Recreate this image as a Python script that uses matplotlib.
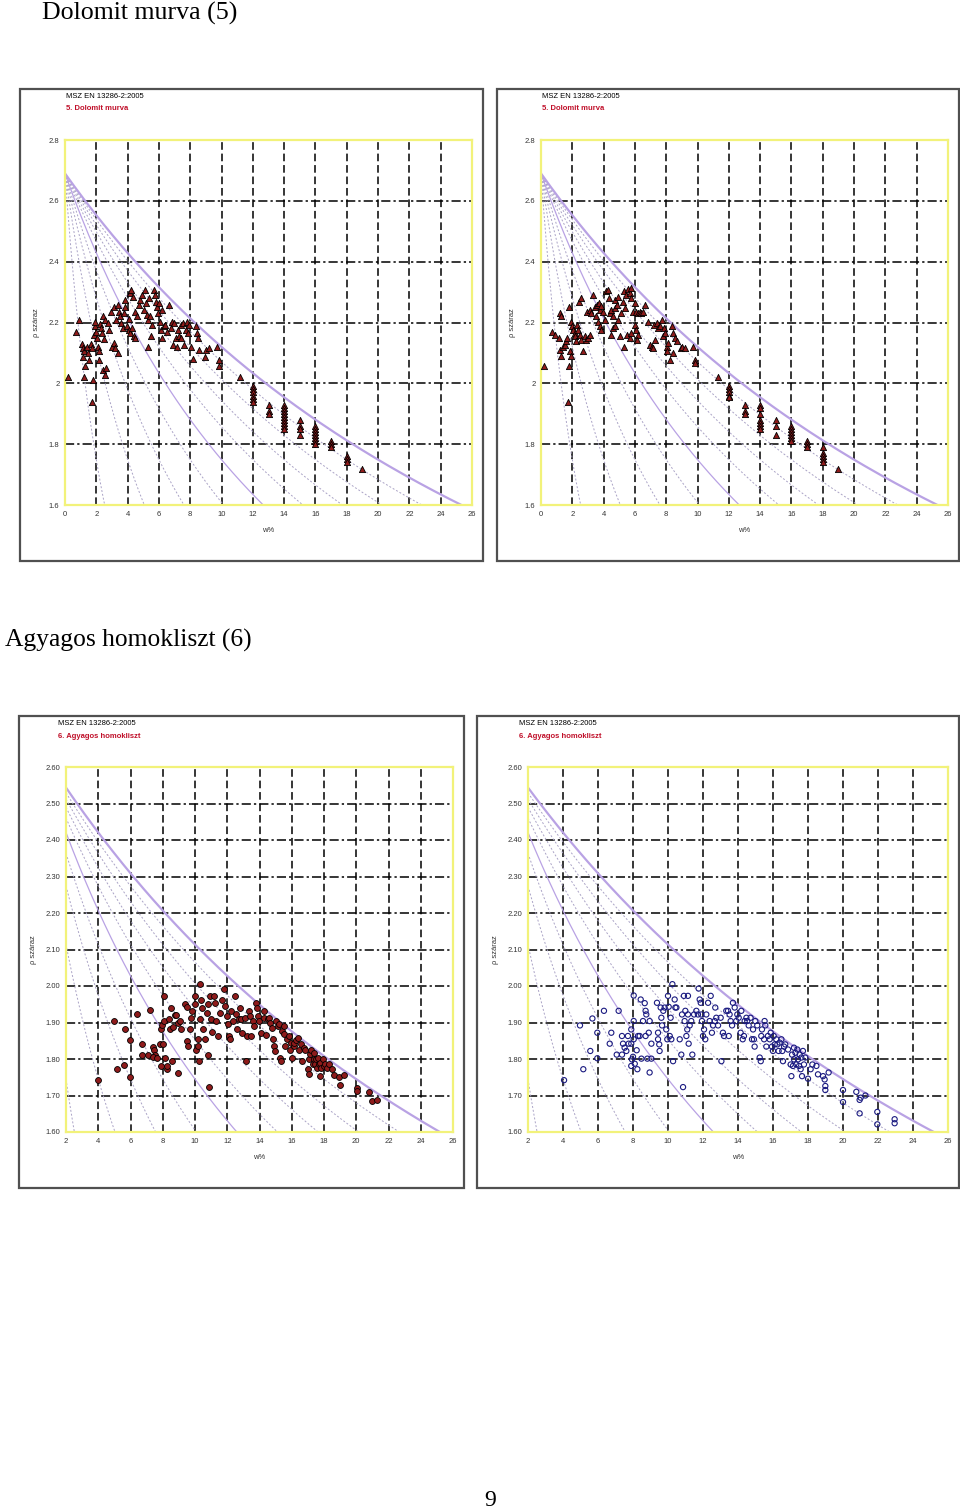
import numpy as np
import matplotlib
matplotlib.use("Agg")
import matplotlib.pyplot as plt
from matplotlib.patches import Rectangle

# --- data ------------------------------------------------------------------

# 5. Dolomit murva, left chart (w %, rho dry)
tl_w = [0.17, 0.70, 0.92, 1.09, 1.15, 1.22, 1.17, 1.28, 1.41, 1.47, 1.51, 1.19, 1.68, 1.73, 1.77,
        1.73, 1.83, 1.90, 1.94, 2.00, 2.05, 2.11, 2.15, 2.20, 2.26, 2.32, 2.37, 2.47, 2.41, 2.54,
        2.64, 2.43, 2.58, 2.75, 2.79, 2.96, 3.01, 3.11, 3.22, 3.37, 3.11, 3.26, 3.39, 3.48, 3.54,
        3.60, 3.69, 3.75, 3.82, 3.86, 3.97, 4.07, 4.18, 4.29, 4.39, 4.46, 4.07, 4.18, 4.24, 4.33,
        4.50, 4.61, 4.71, 4.82, 4.92, 5.03, 5.10, 5.18, 5.25, 5.31, 5.39, 5.46, 5.52, 5.56, 5.29,
        5.67, 5.74, 5.82, 5.88, 5.95, 6.03, 6.10, 6.16, 6.20, 6.20, 6.31, 6.42, 6.52, 6.67, 6.74,
        6.84, 6.89, 6.95, 7.06, 7.16, 7.23, 7.27, 7.38, 7.44, 7.53, 7.59, 7.74, 7.80, 7.87, 7.95,
        8.02, 8.19, 8.34, 8.44, 8.49, 8.55, 8.93, 9.02, 9.19, 9.68, 9.83, 9.83, 11.2,
        12, 12, 12, 12, 12, 12, 13, 13, 13, 14, 14, 14, 14, 14, 14, 14, 14, 14,
        15, 15, 15, 15, 16, 16, 16, 16, 16, 16, 16, 17, 17, 17, 18, 18, 18, 19]
tl_rho = [2.020, 2.170, 2.207, 2.130, 2.115, 2.105, 2.086, 2.058, 2.121, 2.100, 2.078, 2.020, 2.130,
          2.116, 2.012, 1.939, 2.160, 2.187, 2.203, 2.170, 2.149, 2.121, 2.105, 2.078, 2.196, 2.181,
          2.165, 2.145, 2.045, 2.028, 2.050, 2.223, 2.209, 2.198, 2.176, 2.236, 2.121, 2.132, 2.116,
          2.100, 2.252, 2.209, 2.258, 2.236, 2.220, 2.198, 2.181, 2.231, 2.252, 2.274, 2.187, 2.176,
          2.165, 2.181, 2.154, 2.149, 2.211, 2.296, 2.307, 2.285, 2.236, 2.220, 2.258, 2.274, 2.291,
          2.242, 2.307, 2.263, 2.225, 2.209, 2.280, 2.220, 2.154, 2.192, 2.121, 2.307, 2.291, 2.269,
          2.252, 2.231, 2.263, 2.203, 2.176, 2.242, 2.149, 2.187, 2.192, 2.170, 2.258, 2.181, 2.203,
          2.127, 2.198, 2.149, 2.121, 2.176, 2.154, 2.192, 2.149, 2.198, 2.127, 2.176, 2.203, 2.165,
          2.192, 2.121, 2.080, 2.187, 2.165, 2.149, 2.110, 2.086, 2.110, 2.116, 2.121, 2.078, 2.058,
          2.020,
          1.99, 1.98, 1.97, 1.96, 1.95, 1.94, 1.93, 1.91, 1.90, 1.93, 1.92, 1.91, 1.90, 1.89, 1.88,
          1.87, 1.86, 1.85, 1.88, 1.86, 1.85, 1.83, 1.86, 1.85, 1.84, 1.83, 1.82, 1.81, 1.80, 1.81,
          1.80, 1.79, 1.76, 1.75, 1.74, 1.72]

# 5. Dolomit murva, right chart
tr_w = [0.19, 0.70, 0.92, 1.13, 1.22, 1.30, 1.19, 1.26, 1.41, 1.51, 1.62, 1.68, 1.83, 1.90, 1.77,
        1.79, 1.73, 1.94, 2.00, 2.07, 2.15, 2.20, 2.26, 2.32, 2.37, 2.47, 2.54, 2.41, 2.58, 2.69,
        2.79, 2.90, 3.01, 3.11, 2.96, 3.11, 3.22, 3.33, 3.48, 3.60, 3.69, 3.75, 3.86, 3.97, 3.54,
        3.65, 3.75, 3.86, 4.07, 4.18, 4.29, 4.33, 4.39, 4.50, 4.61, 4.71, 4.75, 4.88, 4.92, 4.46,
        4.61, 4.75, 4.92, 5.03, 5.10, 5.25, 5.31, 5.39, 5.46, 5.56, 5.67, 5.74, 5.78, 5.31, 5.52,
        5.67, 5.78, 5.88, 5.99, 6.10, 6.20, 6.31, 6.42, 6.52, 5.99, 6.10, 6.20, 6.16, 6.63, 6.84,
        6.95, 7.06, 7.16, 7.23, 7.27, 7.38, 7.48, 7.59, 7.70, 7.80, 7.87, 7.95, 8.02, 8.08, 8.12,
        8.23, 8.34, 8.44, 8.55, 8.66, 8.44, 8.93, 9.02, 9.19, 9.72, 9.83, 9.83, 11.28,
        12, 12, 12, 12, 12, 13, 13, 13, 14, 14, 14, 14, 14, 14, 14, 15, 15, 15,
        16, 16, 16, 16, 16, 16, 17, 17, 17, 18, 18, 18, 18, 18, 19]
tr_rho = [2.058, 2.170, 2.160, 2.149, 2.231, 2.220, 2.110, 2.089, 2.121, 2.127, 2.138, 2.149, 2.105,
          2.089, 2.252, 2.058, 1.939, 2.203, 2.187, 2.176, 2.165, 2.154, 2.138, 2.192, 2.176, 2.160,
          2.143, 2.269, 2.280, 2.105, 2.154, 2.143, 2.149, 2.160, 2.236, 2.242, 2.231, 2.291, 2.252,
          2.258, 2.263, 2.242, 2.255, 2.236, 2.220, 2.203, 2.187, 2.176, 2.209, 2.302, 2.307, 2.280,
          2.231, 2.242, 2.220, 2.247, 2.274, 2.258, 2.285, 2.160, 2.181, 2.187, 2.209, 2.154, 2.231,
          2.269, 2.302, 2.247, 2.291, 2.309, 2.296, 2.313, 2.280, 2.121, 2.160, 2.149, 2.165, 2.236,
          2.263, 2.236, 2.231, 2.236, 2.231, 2.236, 2.192, 2.176, 2.160, 2.143, 2.258, 2.203, 2.127,
          2.121, 2.116, 2.192, 2.143, 2.198, 2.181, 2.187, 2.209, 2.154, 2.181, 2.165, 2.121, 2.105,
          2.132, 2.078, 2.187, 2.165, 2.149, 2.138, 2.100, 2.116, 2.121, 2.116, 2.121, 2.078, 2.067,
          2.020,
          1.99, 1.98, 1.97, 1.96, 1.955, 1.93, 1.91, 1.90, 1.93, 1.92, 1.90, 1.88, 1.87, 1.86, 1.85,
          1.88, 1.86, 1.83, 1.86, 1.85, 1.84, 1.83, 1.82, 1.81, 1.81, 1.80, 1.79, 1.79, 1.77, 1.76,
          1.75, 1.74, 1.72]

# 6. Agyagos homokliszt, left chart
bl_w = [4.01, 5.00, 5.19, 5.58, 5.68, 5.99, 5.99, 6.39, 6.74, 6.70, 7.07, 7.19, 7.42, 7.48, 7.52,
        7.42, 7.65, 7.81, 8.02, 7.90, 7.98, 8.08, 8.08, 7.90, 8.15, 8.27, 8.29, 8.46, 8.39, 8.52,
        8.60, 8.64, 8.77, 8.85, 8.93, 8.93, 9.06, 9.14, 9.39, 9.49, 9.51, 9.59, 9.72, 9.76, 9.84,
        9.97, 10.01, 10.05, 10.17, 10.21, 10.26, 10.28, 10.32, 10.38, 10.46, 10.52, 10.63, 10.73,
        10.79, 10.83, 10.88, 10.94, 11.00, 11.08, 11.19, 11.25, 11.29, 11.41, 11.56, 11.66, 11.77,
        11.87, 11.97, 12.04, 12.08, 12.18, 12.24, 12.35, 12.45, 12.53, 12.61, 12.70, 12.80, 12.86,
        12.94, 13.07, 13.15, 13.21, 13.32, 13.42, 13.48, 13.57, 13.65, 13.77, 13.84, 13.90, 13.98,
        14.10, 14.25, 14.31, 14.39, 14.52, 14.60, 14.68, 14.77, 14.85, 14.93, 14.97, 15.01, 15.14,
        15.22, 15.30, 15.35, 15.39, 15.49, 15.55, 15.59, 15.70, 15.80, 15.90, 15.97, 16.01, 16.11,
        16.17, 16.26, 16.38, 16.46, 16.59, 16.63, 16.73, 16.84, 17.00, 17.04, 17.08, 17.15, 17.21,
        17.29, 17.35, 17.41, 17.46, 17.52, 17.56, 17.62, 17.66, 17.73, 17.77, 17.83, 17.91, 17.97,
        18.08, 18.18, 18.28, 18.49, 18.59, 18.90, 19.01, 19.21, 20.04, 20.04, 20.77, 20.97, 21.28]
bl_rho = [1.742, 1.904, 1.772, 1.783, 1.881, 1.852, 1.752, 1.922, 1.840, 1.812, 1.812, 1.933, 1.833,
          1.826, 1.812, 1.805, 1.804, 1.840, 1.840, 1.881, 1.892, 1.904, 1.973, 1.781, 1.802, 1.772,
          1.781, 1.881, 1.909, 1.941, 1.794, 1.889, 1.921, 1.920, 1.898, 1.763, 1.904, 1.881, 1.950,
          1.943, 1.849, 1.836, 1.881, 1.913, 1.932, 1.950, 1.973, 1.826, 1.836, 1.854, 1.795, 1.909,
          2.005, 1.963, 1.941, 1.881, 1.854, 1.927, 1.812, 1.950, 1.723, 1.973, 1.909, 1.874, 1.973,
          1.954, 1.904, 1.863, 1.927, 1.963, 1.993, 1.945, 1.918, 1.895, 1.863, 1.854, 1.932, 1.904,
          1.973, 1.922, 1.881, 1.909, 1.941, 1.909, 1.872, 1.913, 1.794, 1.863, 1.932, 1.918, 1.863,
          1.904, 1.890, 1.954, 1.941, 1.918, 1.904, 1.872, 1.932, 1.913, 1.865, 1.909, 1.913, 1.898,
          1.886, 1.854, 1.836, 1.822, 1.904, 1.890, 1.895, 1.804, 1.795, 1.877, 1.868, 1.890, 1.836,
          1.854, 1.863, 1.826, 1.845, 1.804, 1.836, 1.845, 1.852, 1.858, 1.826, 1.840, 1.795, 1.831,
          1.826, 1.772, 1.799, 1.758, 1.813, 1.826, 1.785, 1.799, 1.817, 1.785, 1.799, 1.776, 1.804,
          1.785, 1.753, 1.790, 1.776, 1.799, 1.781, 1.785, 1.776, 1.785, 1.772, 1.756, 1.752, 1.729,
          1.755, 1.721, 1.712, 1.710, 1.684, 1.687]

# 6. Agyagos homokliszt, right chart
br_w = [4.06, 4.97, 5.16, 5.56, 5.68, 5.96, 5.96, 6.34, 6.67, 6.76, 7.07, 7.18, 7.37, 7.37, 7.43,
        7.52, 7.62, 7.71, 7.75, 7.90, 7.90, 7.90, 7.94, 8.00, 8.04, 8.04, 8.04, 8.10, 8.21, 8.25,
        8.29, 8.38, 8.44, 8.48, 8.57, 8.67, 8.72, 8.72, 8.76, 8.82, 8.90, 8.95, 8.95, 9.05, 9.05,
        9.37, 9.43, 9.43, 9.50, 9.52, 9.58, 9.62, 9.66, 9.73, 9.81, 9.90, 9.96, 10.00, 10.04, 10.10,
        10.15, 10.19, 10.25, 10.29, 10.38, 10.42, 10.48, 10.67, 10.76, 10.86, 10.80, 10.91, 10.95,
        10.99, 11.05, 11.10, 11.14, 11.14, 11.18, 11.24, 11.33, 11.39, 11.49, 11.62, 11.71, 11.75,
        11.81, 11.87, 11.90, 11.94, 12.00, 12.06, 12.13, 12.19, 12.29, 12.38, 12.44, 12.51, 12.57,
        12.67, 12.70, 12.76, 12.86, 13.01, 13.05, 13.14, 13.20, 13.33, 13.43, 13.47, 13.52, 13.58,
        13.66, 13.71, 13.81, 13.90, 13.96, 14.04, 14.15, 14.19, 14.27, 14.34, 14.38, 14.48, 14.53,
        14.61, 14.72, 14.80, 14.86, 14.91, 14.95, 14.99, 15.10, 15.24, 15.30, 15.33, 15.37, 15.49,
        15.52, 15.56, 15.62, 15.71, 15.81, 15.87, 15.94, 16.00, 16.04, 16.10, 16.19, 16.25, 16.32,
        16.38, 16.48, 16.53, 16.57, 16.63, 16.70, 16.86, 17.01, 17.05, 17.09, 17.14, 17.20, 17.20,
        17.28, 17.33, 17.39, 17.43, 17.49, 17.52, 17.58, 17.62, 17.66, 17.71, 17.77, 17.85, 18.00,
        18.15, 18.25, 18.48, 18.57, 18.86, 18.95, 18.99, 18.99, 19.18, 20.00, 20.00, 20.76, 20.95,
        20.95, 21.01, 21.28, 21.96, 21.96, 22.95, 22.95]
br_rho = [1.742, 1.892, 1.772, 1.822, 1.911, 1.872, 1.802, 1.932, 1.842, 1.872, 1.812, 1.932, 1.863,
          1.812, 1.842, 1.831, 1.822, 1.863, 1.842, 1.842, 1.881, 1.781, 1.799, 1.806, 1.974, 1.904,
          1.854, 1.787, 1.824, 1.772, 1.863, 1.863, 1.963, 1.801, 1.904, 1.953, 1.932, 1.863, 1.922,
          1.801, 1.872, 1.904, 1.763, 1.801, 1.842, 1.954, 1.872, 1.854, 1.840, 1.822, 1.941, 1.913,
          1.892, 1.932, 1.941, 1.881, 1.854, 1.973, 1.943, 1.863, 1.913, 1.854, 2.005, 1.794, 1.963,
          1.941, 1.941, 1.854, 1.812, 1.723, 1.922, 1.973, 1.904, 1.932, 1.863, 1.881, 1.973, 1.922,
          1.842, 1.892, 1.904, 1.812, 1.922, 1.932, 1.922, 1.993, 1.963, 1.954, 1.922, 1.904, 1.863,
          1.881, 1.854, 1.922, 1.954, 1.904, 1.973, 1.872, 1.892, 1.904, 1.941, 1.913, 1.892, 1.913,
          1.794, 1.872, 1.863, 1.932, 1.932, 1.863, 1.922, 1.904, 1.892, 1.954, 1.941, 1.904, 1.922,
          1.913, 1.872, 1.932, 1.854, 1.863, 1.904, 1.913, 1.904, 1.892, 1.913, 1.854, 1.881, 1.854,
          1.834, 1.904, 1.892, 1.804, 1.794, 1.863, 1.881, 1.854, 1.904, 1.892, 1.834, 1.863, 1.854,
          1.872, 1.834, 1.822, 1.863, 1.840, 1.854, 1.840, 1.822, 1.845, 1.854, 1.822, 1.794, 1.834,
          1.840, 1.826, 1.785, 1.753, 1.812, 1.781, 1.799, 1.831, 1.817, 1.785, 1.826, 1.799, 1.781,
          1.812, 1.772, 1.804, 1.753, 1.822, 1.785, 1.804, 1.746, 1.772, 1.785, 1.781, 1.758, 1.753,
          1.744, 1.726, 1.715, 1.763, 1.715, 1.682, 1.710, 1.688, 1.651, 1.694, 1.700, 1.655, 1.621,
          1.635, 1.624]

# particle density and saturation levels for the background curves
rho_s_dolomit = 2.69
rho_s_agyag = 2.68
sr_dashed = [0.1, 0.2, 0.3, 0.4, 0.6, 0.7, 0.8, 0.9]
sr_solid = [0.5, 1.0]

top_xticks = list(range(0, 27, 2))
top_yticks = [1.6, 1.8, 2.0, 2.2, 2.4, 2.6, 2.8]
top_ylabels = ["1.6", "1.8", "2", "2.2", "2.4", "2.6", "2.8"]
bot_xticks = list(range(2, 27, 2))
bot_yticks = [1.6, 1.7, 1.8, 1.9, 2.0, 2.1, 2.2, 2.3, 2.4, 2.5, 2.6]
bot_ylabels = ["%.2f" % v for v in bot_yticks]

W, H = 960, 1512
fig = plt.figure(figsize=(9.6, 15.12), dpi=100)
fig.patch.set_facecolor("white")

sans = "Liberation Sans"
yellow = "#f2f27a"
lav = "#b9a2e4"
lav_dash = "#aaa3c6"


def px_rect(x0, y0, x1, y1):
    # pixel box (top-left origin) -> figure fraction [l, b, w, h]
    return [x0 / W, 1 - y1 / H, (x1 - x0) / W, (y1 - y0) / H]


def frame(x0, y0, x1, y1):
    l, b, w, h = px_rect(x0, y0, x1, y1)
    fig.add_artist(Rectangle((l, b), w, h, transform=fig.transFigure, fill=False,
                             edgecolor="#505050", lw=1.6))


def panel(box, ws, rhos, xlim, ylim, xticks, yticks, ylabels, rho_s, style):
    ax = fig.add_axes(px_rect(*box))
    ax.set_xlim(*xlim)
    ax.set_ylim(*ylim)
    # saturation curves
    wgrid = np.linspace(xlim[0], xlim[1], 300)
    for sr in sr_dashed:
        ax.plot(wgrid, rho_s / (1 + wgrid / 100 * rho_s / sr), color=lav_dash, lw=0.7,
                ls=(0, (2, 2)), zorder=2)
    ax.plot(wgrid, rho_s / (1 + wgrid / 100 * rho_s / sr_solid[0]), color=lav, lw=0.9, zorder=2)
    ax.plot(wgrid, rho_s / (1 + wgrid / 100 * rho_s / sr_solid[1]), color=lav, lw=1.6, zorder=2)
    # grid
    for x in xticks[1:]:
        ax.axvline(x, color="black", lw=1.1, ls=(0, (5, 2.5)), zorder=1)
    for y in yticks[1:]:
        ax.axhline(y, color="black", lw=1.1, ls=(0, (6, 2, 1.5, 2)), zorder=1)
    ax.scatter(ws, rhos, zorder=4, clip_on=False, **style)
    for s in ax.spines.values():
        s.set_color(yellow)
        s.set_linewidth(1.6)
    ax.set_xticks(xticks)
    ax.set_yticks(yticks)
    ax.set_yticklabels(ylabels)
    ax.tick_params(length=0, labelsize=5.5, pad=4, labelcolor="#333333")
    for t in ax.get_xticklabels() + ax.get_yticklabels():
        t.set_fontfamily(sans)
    ax.set_xlabel("w%", fontsize=5.5, family=sans, labelpad=7, color="#333333")
    ax.set_ylabel("ρ száraz", fontsize=5.5, family=sans, labelpad=6, color="#333333")
    return ax


tri = dict(marker="^", s=20, facecolor="#8e1b1b", edgecolor="black", linewidths=0.6)
dot = dict(marker="o", s=18, facecolor="#8e1b1b", edgecolor="black", linewidths=0.6)
ring = dict(marker="o", s=14, facecolor="none", edgecolor="#1a1a80", linewidths=0.8)

# titles
fig.text(42 / W, 1 - 13 / H, "Dolomit murva (5)", fontsize=18.6, family="Liberation Serif", va="center")
fig.text(5 / W, 1 - 640 / H, "Agyagos homokliszt (6)", fontsize=18.4, family="Liberation Serif", va="center")
fig.text(490 / W, 1 - 1500 / H, "9", fontsize=17, family="Liberation Serif", ha="center", va="center")

# top row
frame(20, 89, 483, 561)
frame(497, 89, 959, 561)
panel((65, 140, 472, 505), tl_w, tl_rho, (0, 26), (1.6, 2.8), top_xticks, top_yticks, top_ylabels,
      rho_s_dolomit, tri)
panel((541, 140, 948, 505), tr_w, tr_rho, (0, 26), (1.6, 2.8), top_xticks, top_yticks, top_ylabels,
      rho_s_dolomit, tri)
for x0 in (66, 542):
    fig.text(x0 / W, 1 - 97 / H, "MSZ EN 13286-2:2005", fontsize=5.5, family=sans, va="center")
    fig.text(x0 / W, 1 - 109 / H, "5. Dolomit murva", fontsize=5.5, family=sans, va="center",
             color="#c0102a", fontweight="bold")

# bottom row
frame(19, 716, 464, 1188)
frame(477, 716, 959, 1188)
panel((66, 767, 453, 1132), bl_w, bl_rho, (2, 26), (1.6, 2.6), bot_xticks, bot_yticks, bot_ylabels,
      rho_s_agyag, dot)
panel((528, 767, 948, 1132), br_w, br_rho, (2, 26), (1.6, 2.6), bot_xticks, bot_yticks, bot_ylabels,
      rho_s_agyag, ring)
for x0 in (58, 519):
    fig.text(x0 / W, 1 - 723 / H, "MSZ EN 13286-2:2005", fontsize=5.5, family=sans, va="center")
    fig.text(x0 / W, 1 - 736 / H, "6. Agyagos homokliszt", fontsize=5.5, family=sans, va="center",
             color="#c0102a", fontweight="bold")

fig.savefig("out.png", dpi=100)
